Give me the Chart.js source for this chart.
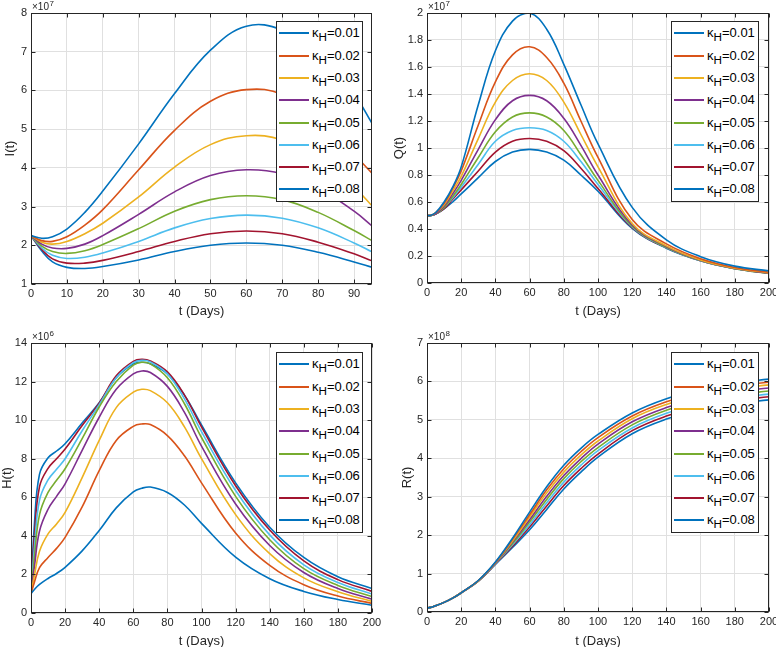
<!DOCTYPE html>
<html>
<head>
<meta charset="utf-8">
<script src="https://cdn.jsdelivr.net/npm/chart.js@4.4.1/dist/chart.umd.min.js"></script>
<style>
  html, body { margin: 0; padding: 0; background: #fff; overflow: hidden; }
  body { width: 776px; height: 647px; position: relative; font-family: "Liberation Sans", Arial, Helvetica, sans-serif; }
  .panel { position: absolute; }
  .legend { position: absolute; background: #fff; border: 1px solid #262626; box-sizing: border-box; z-index: 2; }
  .row { position: absolute; left: 0; width: 100%; height: 20px; }
  .swatch { position: absolute; left: 2px; top: 9px; width: 30px; height: 2px; }
  .lbl { position: absolute; left: 35px; top: 2px; font-size: 13px; line-height: 16px; color: #000; white-space: nowrap; }
  .lbl sub { font-size: 0.9em; vertical-align: -0.3em; line-height: 0; }
</style>
</head>
<body>
<script>
// legend values and series colours (MATLAB default order)
const kappaH = ['0.01', '0.02', '0.03', '0.04', '0.05', '0.06', '0.07', '0.08'];
const lineColors = ['#0072BD', '#D95319', '#EDB120', '#7E2F8E', '#77AC30', '#4DBEEE', '#A2142F', '#0072BD'];

// time samples (days)
const tI = [0, 3, 6, 10, 15, 20, 30, 40, 50, 60, 70, 80, 90, 95];
const tLong = [0, 2, 5, 10, 15, 20, 30, 40, 50, 60, 70, 80, 90, 100, 120, 140, 160, 180, 200];
const tH = [0, 2, 5, 10, 15, 20, 30, 40, 50, 60, 65, 70, 80, 90, 100, 120, 140, 160, 180, 200];

// I(t), x10^7
const iValues = [
  [2.25, 2.18, 2.22, 2.42, 2.85, 3.40, 4.62, 5.92, 7.04, 7.66, 7.56, 6.95, 5.90, 5.15],
  [2.25, 2.12, 2.10, 2.22, 2.52, 2.92, 3.95, 4.97, 5.72, 6.02, 5.90, 5.30, 4.35, 3.86],
  [2.25, 2.08, 2.03, 2.10, 2.30, 2.57, 3.25, 4.02, 4.60, 4.83, 4.72, 4.25, 3.50, 3.02],
  [2.25, 2.03, 1.93, 1.92, 2.03, 2.25, 2.80, 3.38, 3.80, 3.95, 3.85, 3.48, 2.88, 2.50],
  [2.25, 1.98, 1.84, 1.79, 1.86, 2.02, 2.43, 2.88, 3.18, 3.28, 3.18, 2.85, 2.38, 2.12],
  [2.25, 1.93, 1.74, 1.66, 1.69, 1.80, 2.10, 2.45, 2.69, 2.78, 2.70, 2.45, 2.06, 1.83],
  [2.25, 1.89, 1.65, 1.54, 1.54, 1.61, 1.84, 2.10, 2.30, 2.37, 2.30, 2.08, 1.78, 1.60],
  [2.25, 1.85, 1.57, 1.43, 1.40, 1.45, 1.62, 1.84, 2.00, 2.06, 2.00, 1.82, 1.57, 1.43]
];

// Q(t), x10^7
const qValues = [
  [0.5, 0.5, 0.52, 0.60, 0.71, 0.86, 1.32, 1.72, 1.94, 2.00, 1.88, 1.62, 1.32, 1.03, 0.56, 0.32, 0.195, 0.125, 0.09],
  [0.5, 0.5, 0.52, 0.59, 0.70, 0.83, 1.17, 1.49, 1.69, 1.75, 1.67, 1.48, 1.20, 0.93, 0.47, 0.29, 0.18, 0.115, 0.08],
  [0.5, 0.5, 0.52, 0.58, 0.68, 0.79, 1.07, 1.34, 1.50, 1.55, 1.50, 1.34, 1.10, 0.86, 0.44, 0.275, 0.17, 0.11, 0.075],
  [0.5, 0.5, 0.51, 0.57, 0.66, 0.76, 0.99, 1.21, 1.35, 1.39, 1.35, 1.22, 1.02, 0.80, 0.43, 0.27, 0.168, 0.107, 0.072],
  [0.5, 0.5, 0.51, 0.56, 0.64, 0.73, 0.93, 1.12, 1.23, 1.26, 1.23, 1.13, 0.95, 0.76, 0.42, 0.265, 0.166, 0.106, 0.071],
  [0.5, 0.5, 0.51, 0.56, 0.63, 0.71, 0.88, 1.05, 1.13, 1.15, 1.13, 1.05, 0.90, 0.73, 0.415, 0.262, 0.165, 0.106, 0.071],
  [0.5, 0.5, 0.51, 0.55, 0.62, 0.69, 0.83, 0.97, 1.05, 1.07, 1.05, 0.98, 0.85, 0.70, 0.41, 0.26, 0.165, 0.107, 0.072],
  [0.5, 0.5, 0.51, 0.55, 0.60, 0.66, 0.78, 0.90, 0.97, 0.99, 0.97, 0.91, 0.80, 0.68, 0.405, 0.258, 0.165, 0.108, 0.074]
];

// H(t), x10^6
const hValues = [
  [1.0, 1.22, 1.48, 1.79, 2.05, 2.37, 3.22, 4.28, 5.45, 6.28, 6.47, 6.53, 6.25, 5.60, 4.65, 2.90, 1.78, 1.12, 0.70, 0.40],
  [1.0, 1.60, 2.35, 2.88, 3.35, 3.92, 5.50, 7.38, 8.95, 9.68, 9.80, 9.77, 9.20, 8.15, 6.75, 4.15, 2.47, 1.47, 0.88, 0.50],
  [1.0, 1.95, 3.20, 4.10, 4.62, 5.22, 7.02, 8.95, 10.65, 11.45, 11.60, 11.53, 10.90, 9.65, 8.00, 5.10, 3.08, 1.82, 1.10, 0.60],
  [1.0, 2.40, 4.25, 5.38, 6.05, 6.70, 8.43, 10.15, 11.60, 12.40, 12.55, 12.47, 11.75, 10.40, 8.65, 5.65, 3.50, 2.10, 1.27, 0.72],
  [1.0, 2.90, 5.10, 6.25, 6.88, 7.48, 9.04, 10.68, 12.00, 12.85, 13.00, 12.92, 12.20, 10.85, 9.10, 6.05, 3.80, 2.30, 1.43, 0.85],
  [1.0, 3.40, 5.85, 6.90, 7.45, 8.00, 9.45, 10.80, 12.20, 12.98, 13.10, 13.02, 12.40, 11.10, 9.40, 6.35, 4.05, 2.50, 1.58, 0.98],
  [1.0, 4.00, 6.55, 7.50, 8.00, 8.50, 9.72, 10.88, 12.30, 13.05, 13.15, 13.07, 12.50, 11.30, 9.65, 6.60, 4.30, 2.70, 1.73, 1.12],
  [1.0, 4.60, 7.20, 8.05, 8.40, 8.78, 9.85, 10.90, 12.20, 12.92, 13.00, 12.92, 12.40, 11.30, 9.75, 6.75, 4.45, 2.88, 1.88, 1.27]
];

// R(t), x10^8
const rValues = [
  [0.1, 0.12, 0.16, 0.25, 0.36, 0.5, 0.82, 1.30, 1.92, 2.60, 3.26, 3.82, 4.26, 4.62, 5.18, 5.55, 5.80, 5.96, 6.06],
  [0.1, 0.12, 0.16, 0.25, 0.36, 0.5, 0.82, 1.29, 1.89, 2.53, 3.18, 3.73, 4.17, 4.54, 5.10, 5.47, 5.72, 5.88, 5.98],
  [0.1, 0.12, 0.16, 0.25, 0.36, 0.5, 0.81, 1.28, 1.85, 2.47, 3.10, 3.64, 4.08, 4.45, 5.03, 5.40, 5.65, 5.81, 5.91],
  [0.1, 0.12, 0.16, 0.25, 0.36, 0.5, 0.81, 1.27, 1.82, 2.40, 3.01, 3.55, 3.99, 4.37, 4.95, 5.32, 5.57, 5.73, 5.83],
  [0.1, 0.12, 0.16, 0.25, 0.36, 0.5, 0.81, 1.27, 1.78, 2.34, 2.93, 3.47, 3.91, 4.28, 4.87, 5.25, 5.50, 5.65, 5.75],
  [0.1, 0.12, 0.16, 0.25, 0.36, 0.5, 0.81, 1.26, 1.75, 2.27, 2.84, 3.38, 3.82, 4.20, 4.79, 5.17, 5.42, 5.57, 5.67],
  [0.1, 0.12, 0.16, 0.25, 0.36, 0.5, 0.80, 1.25, 1.71, 2.21, 2.76, 3.29, 3.73, 4.11, 4.72, 5.10, 5.35, 5.50, 5.60],
  [0.1, 0.12, 0.16, 0.25, 0.36, 0.5, 0.80, 1.24, 1.68, 2.14, 2.67, 3.20, 3.64, 4.03, 4.64, 5.02, 5.27, 5.42, 5.52]
];

// tick values
const xTicksI = [0, 10, 20, 30, 40, 50, 60, 70, 80, 90];
const xTicksLong = [0, 20, 40, 60, 80, 100, 120, 140, 160, 180, 200];
const yTicksI = [1, 2, 3, 4, 5, 6, 7, 8];
const yTicksQ = [0, 0.2, 0.4, 0.6, 0.8, 1, 1.2, 1.4, 1.6, 1.8, 2];
const yTicksH = [0, 2, 4, 6, 8, 10, 12, 14];
const yTicksR = [0, 1, 2, 3, 4, 5, 6, 7];

const textColor = '#262626';
const gridColor = '#e0e0e0';
const fontFamily = '"Liberation Sans", Arial, Helvetica, sans-serif';

// box axes with inward ticks, plus the x10^n exponent at the top left
const matlabFrame = {
  id: 'matlabFrame',
  afterDraw(chart, args, opts) {
    const { ctx, chartArea: a, scales: { x, y } } = chart;
    const L = Math.round(a.left) + 0.5, R = Math.round(a.right) - 0.5;
    const T = Math.round(a.top) + 0.5, B = Math.round(a.bottom) - 0.5;
    ctx.save();
    ctx.strokeStyle = textColor;
    ctx.lineWidth = 1;
    ctx.strokeRect(L, T, R - L, B - T);
    ctx.beginPath();
    const tl = 4;
    x.ticks.forEach(tk => {
      const px = Math.round(x.getPixelForValue(tk.value)) + 0.5;
      ctx.moveTo(px, B); ctx.lineTo(px, B - tl);
      ctx.moveTo(px, T); ctx.lineTo(px, T + tl);
    });
    y.ticks.forEach(tk => {
      const py = Math.round(y.getPixelForValue(tk.value)) + 0.5;
      ctx.moveTo(L, py); ctx.lineTo(L + tl, py);
      ctx.moveTo(R, py); ctx.lineTo(R - tl, py);
    });
    ctx.stroke();

    ctx.fillStyle = textColor;
    ctx.textBaseline = 'alphabetic';
    ctx.font = '10px ' + fontFamily;
    ctx.fillText('×10', a.left + 1, a.top - 3);
    const w = ctx.measureText('×10').width;
    ctx.font = '8px ' + fontFamily;
    ctx.fillText(opts.exp, a.left + 1.5 + w, a.top - 7);
    ctx.restore();
  }
};

// page layout: canvas box [left, top, w, h], chart area inside it [l, t, r, b], legend box on page
const panels = [
  { box: [0, 0, 388, 320], area: [31, 13, 372, 284], legend: [276, 21, 87, 181],
    t: tI, values: iValues, xTicks: xTicksI, yTicks: yTicksI, xMax: 95, yMin: 1, yMax: 8,
    yTitle: 'I(t)', yTitlePad: 3, exp: '7' },
  { box: [388, 0, 388, 320], area: [39, 13, 381, 283], legend: [671, 21, 88, 181],
    t: tLong, values: qValues, xTicks: xTicksLong, yTicks: yTicksQ, xMax: 200, yMin: 0, yMax: 2,
    yTitle: 'Q(t)', yTitlePad: 4, exp: '7' },
  { box: [0, 320, 388, 330], area: [31, 23, 372, 293], legend: [276, 352, 87, 181],
    t: tH, values: hValues, xTicks: xTicksLong, yTicks: yTicksH, xMax: 200, yMin: 0, yMax: 14,
    yTitle: 'H(t)', yTitlePad: 0, exp: '6' },
  { box: [388, 320, 388, 330], area: [39, 23, 381, 292], legend: [671, 352, 88, 181],
    t: tLong, values: rValues, xTicks: xTicksLong, yTicks: yTicksR, xMax: 200, yMin: 0, yMax: 7,
    yTitle: 'R(t)', yTitlePad: 12, exp: '8' }
];

function buildPanel(p) {
  const wrap = document.createElement('div');
  wrap.className = 'panel';
  Object.assign(wrap.style, { left: p.box[0] + 'px', top: p.box[1] + 'px', width: p.box[2] + 'px', height: p.box[3] + 'px' });
  const canvas = document.createElement('canvas');
  canvas.width = p.box[2];
  canvas.height = p.box[3];
  wrap.appendChild(canvas);
  document.body.appendChild(wrap);

  const tickFont = { size: 11, family: fontFamily };
  const titleFont = { size: 13, family: fontFamily };

  new Chart(canvas, {
    type: 'line',
    data: {
      datasets: p.values.map((vals, k) => ({
        label: 'κH=' + kappaH[k],
        data: p.t.map((t, i) => ({ x: t, y: vals[i] })),
        borderColor: lineColors[k],
        borderWidth: 1.6,
        pointRadius: 0,
        fill: false,
        tension: 0.4
      }))
    },
    options: {
      responsive: false,
      animation: false,
      devicePixelRatio: 1,
      layout: { padding: { left: 0, top: p.area[1], right: p.box[2] - p.area[2], bottom: 0 } },
      plugins: {
        legend: { display: false },
        tooltip: { enabled: false },
        matlabFrame: { exp: p.exp }
      },
      scales: {
        x: {
          type: 'linear', min: 0, max: p.xMax,
          grid: { color: gridColor, drawTicks: false },
          border: { display: false },
          ticks: { color: textColor, font: tickFont, padding: 3, maxRotation: 0, autoSkip: false },
          afterBuildTicks: s => { s.ticks = p.xTicks.map(v => ({ value: v })); },
          afterFit: s => { s.height = p.box[3] - p.area[3]; s.paddingLeft = 0; s.paddingRight = 0; },
          title: { display: true, text: 't (Days)', color: textColor, font: titleFont, padding: { top: 0, bottom: 0.5 } }
        },
        y: {
          min: p.yMin, max: p.yMax,
          grid: { color: gridColor, drawTicks: false },
          border: { display: false },
          ticks: { color: textColor, font: tickFont, padding: 4, autoSkip: false,
                   callback: v => String(+v.toFixed(2)) },
          afterBuildTicks: s => { s.ticks = p.yTicks.map(v => ({ value: v })); },
          afterFit: s => { s.width = p.area[0]; s.paddingTop = 0; s.paddingBottom = 0; },
          title: { display: true, text: p.yTitle, color: textColor, font: titleFont, padding: { top: p.yTitlePad, bottom: 0 } }
        }
      }
    },
    plugins: [matlabFrame]
  });

  // MATLAB style legend box
  const box = document.createElement('div');
  box.className = 'legend';
  Object.assign(box.style, { left: p.legend[0] + 'px', top: p.legend[1] + 'px', width: p.legend[2] + 'px', height: p.legend[3] + 'px' });
  kappaH.forEach((k, i) => {
    const row = document.createElement('div');
    row.className = 'row';
    row.style.top = (1.3 + 22.3 * i) + 'px';
    row.innerHTML = '<span class="swatch" style="background:' + lineColors[i] + '"></span>' +
                    '<span class="lbl">κ<sub>H</sub>=' + k + '</span>';
    box.appendChild(row);
  });
  document.body.appendChild(box);
}

panels.forEach(buildPanel);
</script>
</body>
</html>
